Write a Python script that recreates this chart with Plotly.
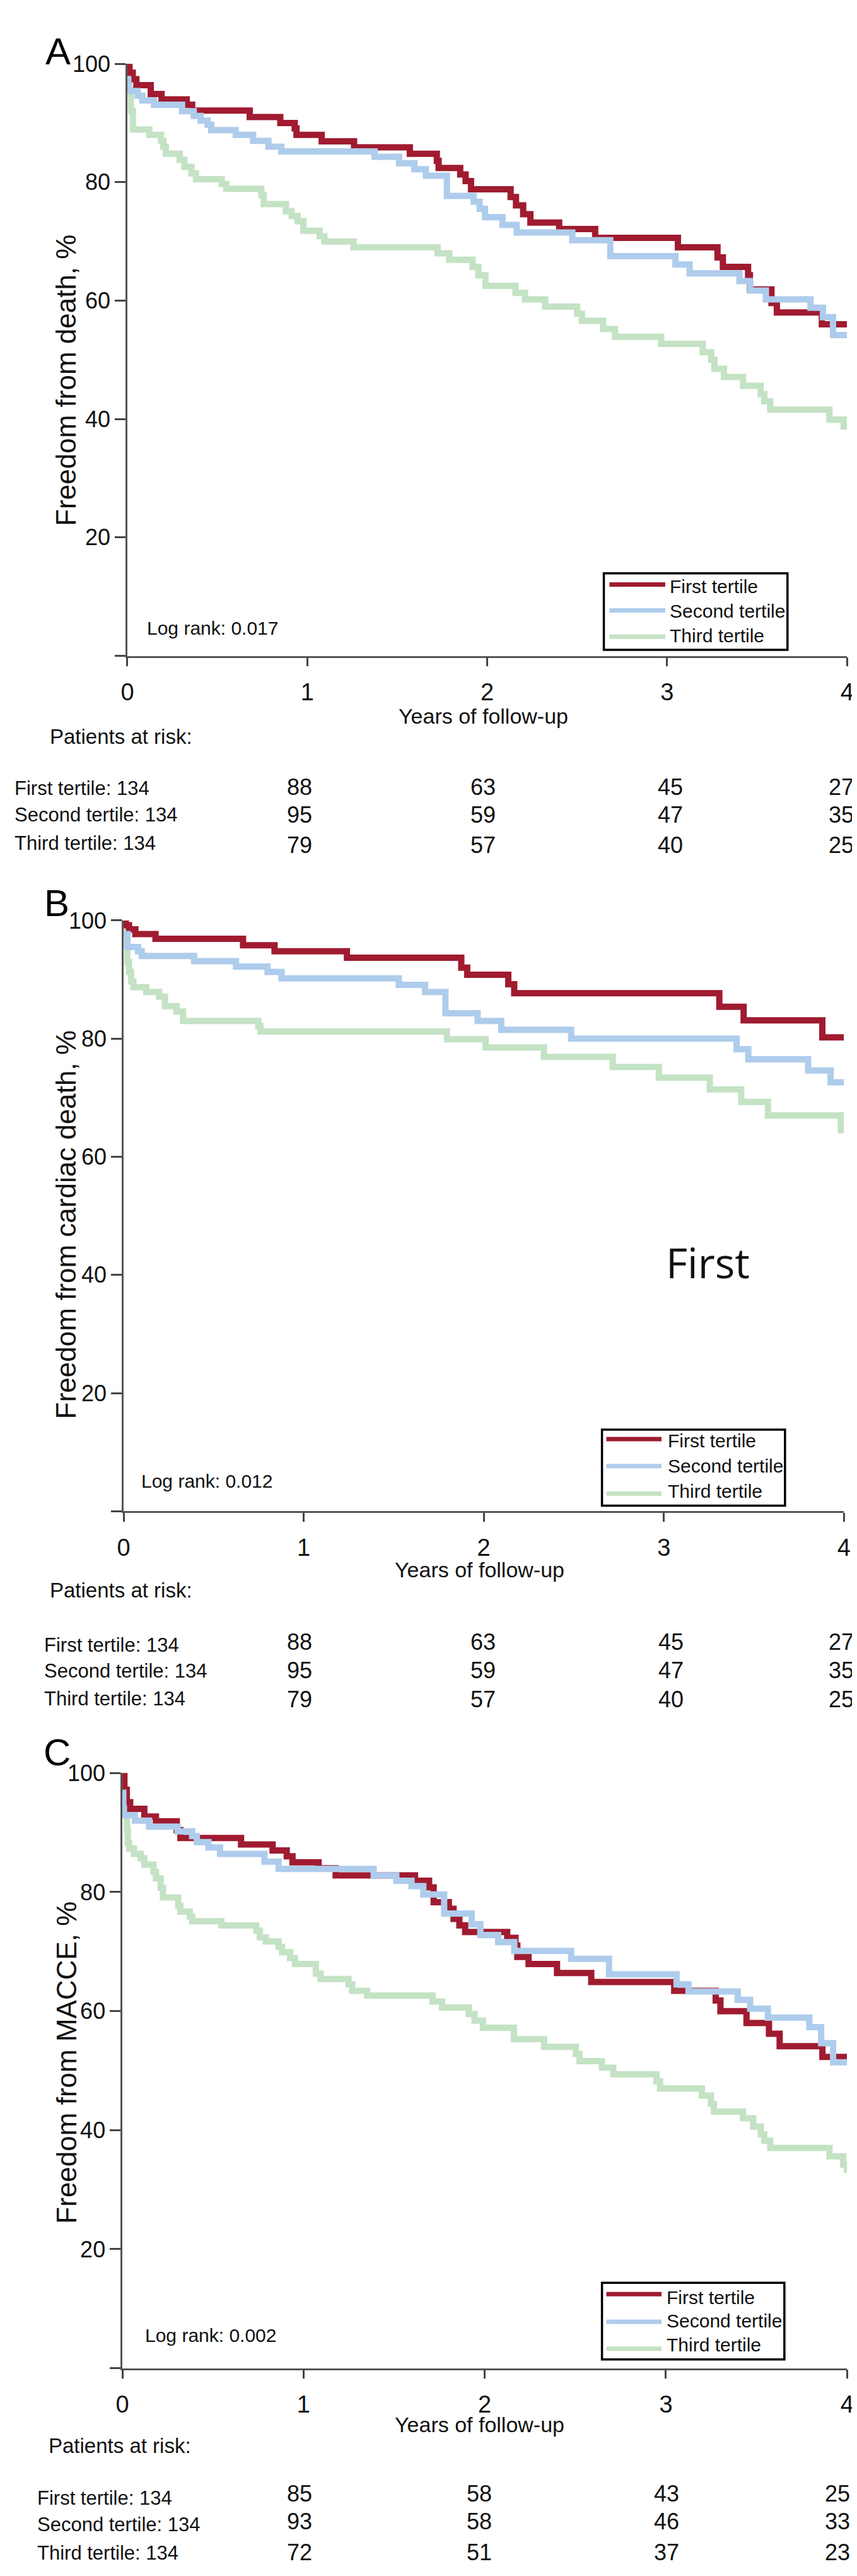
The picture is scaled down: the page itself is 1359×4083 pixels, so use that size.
import plotly.graph_objects as go

W, H = 1359, 4083

# ---------------- DATA ----------------
SERIES = ["First tertile", "Second tertile", "Third tertile"]
COLORS = {"First tertile": "#A01B30", "Second tertile": "#AECCEC", "Third tertile": "#C4E2C4"}

# Panel A: freedom from death
A_first_t = [0, 0.012, 0.03, 0.05, 0.13, 0.19, 0.33, 0.36, 0.68, 0.85, 0.93, 0.94, 1.08, 1.26, 1.57, 1.72,
             1.73, 1.85, 1.88, 1.91, 2.13, 2.16, 2.20, 2.24, 2.40, 2.60, 3.06, 3.28, 3.31, 3.45, 3.46, 3.58,
             3.61, 3.86, 4.0]
A_first_s = [100, 98.5, 97.4, 96.4, 94.9, 94.0, 93.1, 92.1, 91.0, 90.0, 89.1, 88.0, 86.9, 85.9, 84.8, 83.6,
             82.4, 81.3, 80.2, 78.8, 77.5, 76.1, 74.6, 73.2, 72.1, 70.6, 69.0, 67.3, 65.7, 64.3, 61.9, 59.6,
             58.0, 56.0, 56.0]
A_second_t = [0, 0.005, 0.057, 0.083, 0.148, 0.304, 0.369, 0.407, 0.446, 0.466, 0.602, 0.699, 0.784, 0.855,
              1.374, 1.510, 1.595, 1.659, 1.776, 1.925, 1.958, 1.988, 2.085, 2.164, 2.473, 2.684, 3.046,
              3.125, 3.402, 3.461, 3.549, 3.797, 3.866, 3.922, 4.0]
A_second_s = [97.4, 95.4, 94.6, 93.8, 93.1, 92.0, 91.2, 90.4, 89.7, 88.8, 88.0, 87.0, 86.0, 85.2,
              84.3, 83.2, 82.2, 81.1, 77.7, 76.7, 75.5, 74.1, 72.8, 71.5, 70.2, 67.5, 66.1,
              64.6, 63.3, 61.7, 60.2, 58.8, 57.2, 54.2, 54.2]
A_third_t = [0, 0.01, 0.02, 0.031, 0.122, 0.187, 0.200, 0.214, 0.291, 0.317, 0.356, 0.381, 0.524, 0.550,
             0.745, 0.758, 0.881, 0.913, 0.946, 0.978, 1.069, 1.095, 1.257, 1.724, 1.789, 1.919, 1.951,
             1.990, 2.157, 2.210, 2.322, 2.500, 2.526, 2.644, 2.710, 2.967, 3.198, 3.245, 3.263, 3.316,
             3.422, 3.520, 3.540, 3.573, 3.902, 3.981, 4.0]
A_third_s = [100, 95.7, 92.0, 88.9, 88.0, 87.0, 86.0, 84.8, 83.8, 82.6, 81.5, 80.5, 79.7, 78.9,
             77.8, 76.3, 75.1, 74.3, 73.4, 71.8, 70.9, 70.0, 69.0, 68.0, 66.9, 65.7, 64.3,
             62.5, 61.3, 60.2, 59.0, 57.8, 56.6, 55.2, 53.9, 52.7, 51.3, 50.0, 48.5, 47.1,
             45.6, 44.2, 43.0, 41.6, 39.9, 38.7, 38.7]

# Panel B: freedom from cardiac death
B_first_t = [0, 0.012, 0.03, 0.065, 0.177, 0.663, 0.838, 1.240, 1.875, 1.908, 2.136, 2.169, 3.308, 3.443,
             3.880, 4.0]
B_first_s = [100, 99.2, 98.5, 97.7, 96.9, 95.8, 94.8, 93.7, 92.0, 90.8, 89.2, 87.7, 85.4, 83.1,
             80.2, 80.2]
B_second_t = [0, 0.022, 0.080, 0.100, 0.391, 0.624, 0.799, 0.877, 1.528, 1.674, 1.787, 1.966, 2.097, 2.485,
              3.404, 3.469, 3.801, 3.926, 4.0]
B_second_s = [97.7, 95.5, 94.8, 94.0, 93.1, 92.2, 91.3, 90.2, 89.1, 87.9, 84.3, 83.0, 81.5, 80.0,
              78.2, 76.5, 74.6, 72.6, 72.6]
B_third_t = [0, 0.01, 0.02, 0.03, 0.041, 0.054, 0.125, 0.197, 0.229, 0.294, 0.330, 0.748, 0.760, 1.795,
             2.010, 2.334, 2.716, 2.972, 3.255, 3.430, 3.578, 3.983, 4.0]
B_third_s = [100, 96.0, 93.0, 91.3, 89.7, 88.7, 87.9, 87.1, 85.5, 84.6, 83.0, 82.1, 81.2, 79.9,
             78.5, 76.9, 75.2, 73.4, 71.4, 69.3, 67.0, 64.5, 64.5]

# Panel C: freedom from MACCE
C_first_t = [0, 0.011, 0.024, 0.043, 0.121, 0.185, 0.300, 0.320, 0.655, 0.829, 0.907, 0.939, 1.083, 1.177,
             1.615, 1.693, 1.718, 1.802, 1.828, 1.860, 1.892, 2.124, 2.170, 2.180, 2.242, 2.399, 2.588,
             3.046, 3.275, 3.301, 3.445, 3.569, 3.628, 3.864, 4.0]
C_first_s = [100, 97.2, 95.1, 94.0, 92.7, 91.9, 90.4, 89.1, 88.0, 87.0, 86.0, 85.0, 84.0, 82.8,
             81.9, 80.8, 78.3, 77.2, 75.5, 74.4, 73.3, 72.3, 71.0, 69.1, 67.9, 66.4, 64.9,
             63.4, 61.8, 60.0, 58.0, 56.2, 54.1, 52.3, 52.3]
C_second_t = [0, 0.005, 0.069, 0.147, 0.305, 0.385, 0.411, 0.475, 0.539, 0.784, 0.862, 1.387, 1.512, 1.596,
              1.661, 1.776, 1.928, 1.976, 2.074, 2.163, 2.477, 2.686, 3.059, 3.125, 3.396, 3.465, 3.563,
              3.792, 3.857, 3.923, 4.0]
C_second_s = [96.7, 92.9, 92.0, 91.0, 90.2, 89.4, 88.4, 87.5, 86.4, 85.1, 83.9, 82.8, 81.9, 81.0,
              79.6, 76.4, 74.6, 72.8, 71.6, 70.1, 68.8, 66.2, 64.5, 63.3, 61.9, 60.4, 58.9,
              57.3, 54.6, 51.4, 51.4]
C_third_t = [0, 0.010, 0.018, 0.025, 0.030, 0.037, 0.063, 0.101, 0.121, 0.172, 0.185, 0.211, 0.224, 0.308,
             0.320, 0.372, 0.385, 0.546, 0.739, 0.759, 0.791, 0.862, 0.881, 0.926, 0.952, 1.068, 1.094,
             1.248, 1.268, 1.351, 1.712, 1.764, 1.912, 1.944, 1.990, 2.161, 2.327, 2.503, 2.523, 2.647,
             2.710, 2.948, 2.968, 3.199, 3.249, 3.265, 3.426, 3.482, 3.524, 3.543, 3.576, 3.903, 3.979, 4.0]
C_third_s = [100, 96.0, 93.3, 90.4, 88.2, 87.3, 86.4, 85.7, 84.6, 83.4, 82.3, 80.7, 79.1, 77.7,
             76.7, 75.9, 75.1, 74.4, 73.5, 72.4, 71.7, 70.8, 69.9, 68.9, 67.9, 66.3, 65.4,
             64.5, 63.4, 62.6, 61.6, 60.6, 59.5, 58.4, 57.2, 55.3, 54.0, 52.8, 51.6, 50.5,
             49.4, 48.2, 47.0, 45.8, 44.4, 43.1, 42.0, 40.6, 39.3, 38.2, 37.0, 35.6, 34.2, 32.8, 32.8]

# Patients at risk (years 1..4)
A_risk_first = [88, 63, 45, 27]
A_risk_second = [95, 59, 47, 35]
A_risk_third = [79, 57, 40, 25]
B_risk_first = [88, 63, 45, 27]
B_risk_second = [95, 59, 47, 35]
B_risk_third = [79, 57, 40, 25]
C_risk_first = [85, 58, 43, 25]
C_risk_second = [93, 58, 46, 33]
C_risk_third = [72, 51, 37, 23]
N_START = [134, 134, 134]

Y_TITLES = ["Freedom from death, %", "Freedom from cardiac death, %", "Freedom from MACCE, %"]
LOG_RANK = ["Log rank: 0.017", "Log rank: 0.012", "Log rank: 0.002"]
LETTERS = ["A", "B", "C"]
X_TICKS = [0, 1, 2, 3, 4]
Y_TICKS = [0, 20, 40, 60, 80, 100]
Y_TICKTEXT = ["", "20", "40", "60", "80", "100"]

curves = [
    [(A_first_t, A_first_s), (A_second_t, A_second_s), (A_third_t, A_third_s)],
    [(B_first_t, B_first_s), (B_second_t, B_second_s), (B_third_t, B_third_s)],
    [(C_first_t, C_first_s), (C_second_t, C_second_s), (C_third_t, C_third_s)],
]
risks = [
    [A_risk_first, A_risk_second, A_risk_third],
    [B_risk_first, B_risk_second, B_risk_third],
    [C_risk_first, C_risk_second, C_risk_third],
]

# ---------------- LAYOUT GEOMETRY (pixels) ----------------
FONT = "Liberation Sans, Arial, Helvetica, sans-serif"
geo = [
    dict(x0=186, x1=1346, ytop=73.5, ybot=1016.5, letter=(74, 54), ytitle=(87, 578),
         xtitle=(760, 1112), par=(59, 1145), lab_x=2, lab_y=[1228, 1270, 1315],
         num_x=[464, 759, 1061, 1337], num_y=[1226, 1270, 1318], logrank=(215, 972),
         box=(954, 1250, 885, 1007), leg_line=(963, 1053), leg_ly=[903, 944, 986],
         leg_tx=1058, leg_ty=[906, 945, 984]),
    dict(x0=180, x1=1341, ytop=1438, ybot=2379, letter=(72, 1410), ytitle=(87, 1923),
         xtitle=(754, 2472), par=(59, 2505), lab_x=50, lab_y=[2592, 2633, 2678],
         num_x=[464, 759, 1062, 1337], num_y=[2587, 2632, 2679], logrank=(206, 2331),
         box=(951, 1246, 2249, 2370), leg_line=(958, 1047), leg_ly=[2264, 2307, 2351],
         leg_tx=1055, leg_ty=[2267, 2307, 2347]),
    dict(x0=178, x1=1346, ytop=2796, ybot=3744, letter=(73, 2763), ytitle=(87, 3257),
         xtitle=(754, 3834), par=(57, 3867), lab_x=39, lab_y=[3951, 3993, 4038],
         num_x=[464, 753, 1055, 1331], num_y=[3944, 3988, 4037], logrank=(212, 3692),
         box=(951, 1245, 3608, 3730), leg_line=(958, 1047), leg_ly=[3626, 3670, 3713],
         leg_tx=1053, leg_ty=[3631, 3668, 3707]),
]


def px(x):
    return x / W


def py(y):
    return 1 - y / H


fig = go.Figure()
annotations = []
shapes = []
layout_axes = {}

for i, g in enumerate(geo):
    sfx = "" if i == 0 else str(i + 1)
    xa, ya = "x" + sfx, "y" + sfx
    # draw green first, then red, then blue on top (as in the picture)
    for k in [2, 0, 1]:
        t, s = curves[i][k]
        fig.add_trace(go.Scatter(
            x=t, y=s, mode="lines", name=SERIES[k], showlegend=False,
            line=dict(color=COLORS[SERIES[k]], width=10, shape="hv"),
            xaxis=xa, yaxis=ya, hoverinfo="skip"))
    layout_axes["xaxis" + sfx] = dict(
        domain=[px(g["x0"]), px(g["x1"])], anchor=ya, range=[0, 4],
        tickvals=X_TICKS, ticks="outside", ticklen=14, tickwidth=2.5, tickcolor="#444",
        ticklabelstandoff=8,
        showline=True, linecolor="#555", linewidth=2.5, showgrid=False, zeroline=False,
        tickfont=dict(family=FONT, size=38, color="#111"), fixedrange=True)
    layout_axes["yaxis" + sfx] = dict(
        domain=[py(g["ybot"]), py(g["ytop"])], anchor=xa, range=[0, 100],
        tickvals=Y_TICKS, ticktext=Y_TICKTEXT, ticks="outside", ticklen=17, tickwidth=2.5,
        tickcolor="#444", showline=True, linecolor="#555", linewidth=2.5, showgrid=False,
        zeroline=False, tickfont=dict(family=FONT, size=36, color="#111"), fixedrange=True)

    def ann(text, x, y, size, xanchor="left", angle=0, family=FONT, color="#111"):
        annotations.append(dict(text=text, x=px(x), y=py(y), xref="paper", yref="paper",
                                xanchor=xanchor, yanchor="middle", showarrow=False,
                                textangle=angle, font=dict(family=family, size=size, color=color)))

    ann(LETTERS[i], g["letter"][0], g["letter"][1], 60, xanchor="center", color="#000")
    ann(Y_TITLES[i], g["ytitle"][0], g["ytitle"][1], 44, xanchor="center", angle=-90)
    ann("Years of follow-up", g["xtitle"][0], g["xtitle"][1], 34, xanchor="center")
    ann("Patients at risk:", g["par"][0], g["par"][1], 33)
    ann(LOG_RANK[i], g["logrank"][0], g["logrank"][1], 30)
    for k in range(3):
        ann(f"{SERIES[k]}: {N_START[k]}", g["lab_x"], g["lab_y"][k], 31)
        for j, v in enumerate(risks[i][k]):
            ann(str(v), g["num_x"][j], g["num_y"][k], 36, xanchor="center")
    # legend box
    bx0, bx1, by0, by1 = g["box"]
    shapes.append(dict(type="rect", xref="paper", yref="paper", x0=px(bx0), x1=px(bx1),
                       y0=py(by1), y1=py(by0), line=dict(color="#000", width=3.5),
                       fillcolor="white", layer="above"))
    for k in range(3):
        shapes.append(dict(type="line", xref="paper", yref="paper",
                           x0=px(g["leg_line"][0]), x1=px(g["leg_line"][1]),
                           y0=py(g["leg_ly"][k]), y1=py(g["leg_ly"][k]),
                           line=dict(color=COLORS[SERIES[k]], width=7)))
        ann(SERIES[k], g["leg_tx"], g["leg_ty"][k], 30)

# stray "First" label inside panel B
annotations.append(dict(text="First", x=px(1122), y=py(1982), xref="paper", yref="paper",
                        xanchor="center", yanchor="middle", showarrow=False,
                        font=dict(family="Open Sans, sans-serif", size=66, color="#111")))

fig.update_layout(width=W, height=H, margin=dict(l=0, r=0, t=0, b=0),
                  paper_bgcolor="white", plot_bgcolor="white", showlegend=False,
                  annotations=annotations, shapes=shapes, **layout_axes)

fig.write_html("out.html")
